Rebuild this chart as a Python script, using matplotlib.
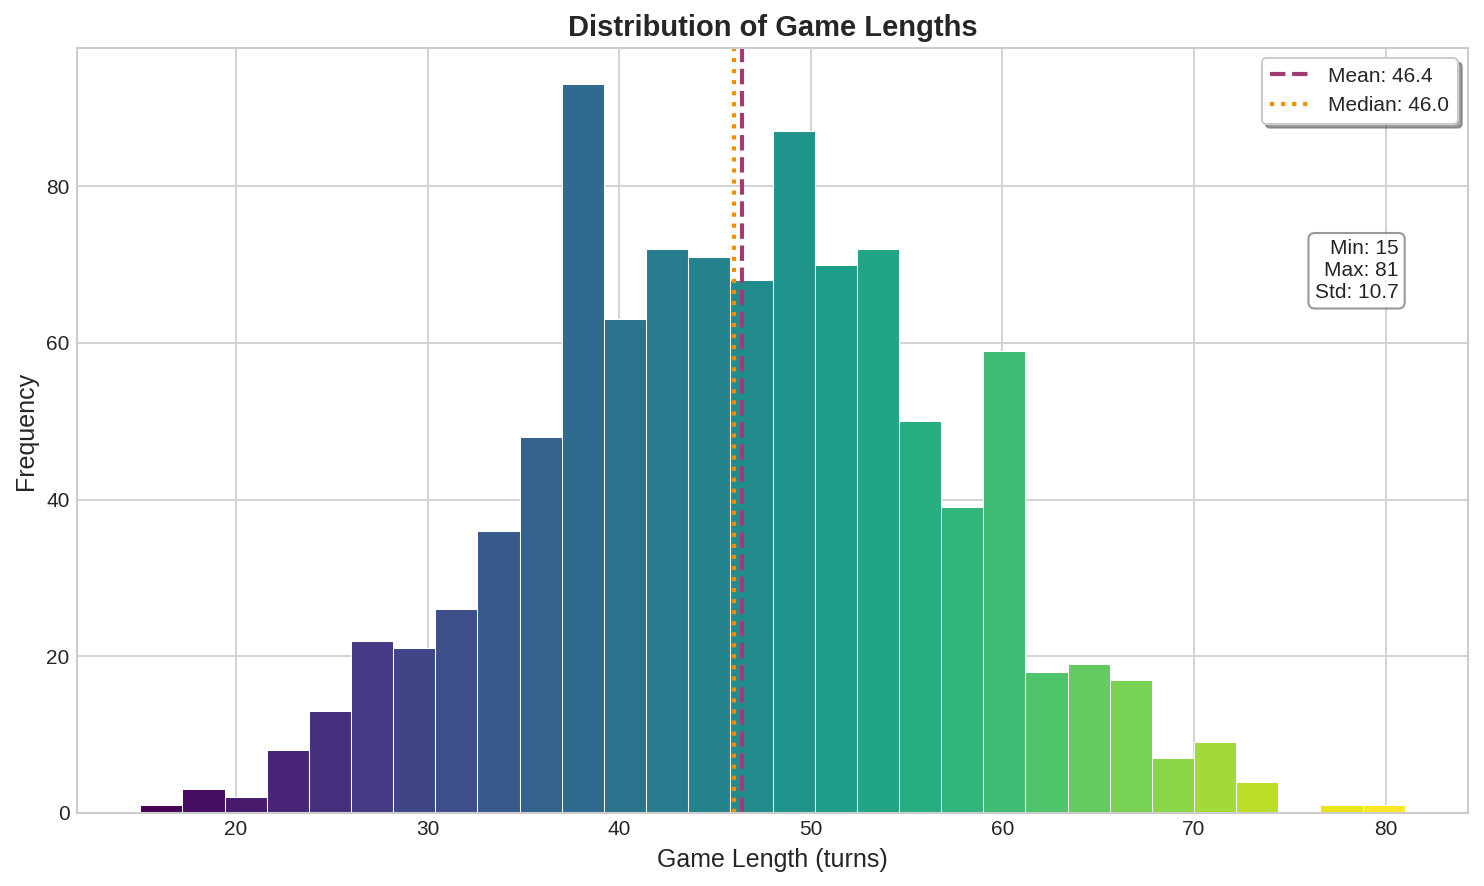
import numpy as np
import matplotlib
matplotlib.use("Agg")
import matplotlib.pyplot as plt

# Data
bin_start = 15.0
bin_end = 81.0
counts = [1, 3, 2, 8, 13, 22, 21, 26, 36, 48,
          93, 63, 72, 71, 68, 87, 70, 72, 50, 39,
          59, 18, 19, 17, 7, 9, 4, 0, 1, 1]
mean_val = 46.4
median_val = 46.0
min_val = 15
max_val = 81
std_val = 10.7

plt.style.use("seaborn-v0_8-whitegrid")
plt.rcParams['font.family'] = ['Arial', 'Liberation Sans', 'DejaVu Sans']

fig = plt.figure(figsize=(1484 / 150, 886 / 150), dpi=150)
ax = fig.add_axes([77 / 1484, (886 - 813) / 886, (1468 - 77) / 1484, (813 - 48) / 886])

n = len(counts)
edges = np.linspace(bin_start, bin_end, n + 1)
widths = np.diff(edges)
colors = plt.cm.viridis(np.linspace(0, 1, n))
ax.bar(edges[:-1], counts, width=widths, align='edge', color=colors,
       edgecolor='white', linewidth=0.5)

ax.axvline(mean_val, color='#A23B72', linestyle='--', linewidth=2, label=f'Mean: {mean_val:.1f}')
ax.axvline(median_val, color='#F18F01', linestyle=':', linewidth=2, label=f'Median: {median_val:.1f}')

ax.set_xlim(11.7, 84.3)
ax.set_ylim(0, 97.65)
ax.set_title('Distribution of Game Lengths', fontsize=14, fontweight='bold')
ax.set_xlabel('Game Length (turns)', fontsize=12)
ax.set_ylabel('Frequency', fontsize=12)
ax.tick_params(labelsize=10)

ax.legend(loc='upper right', frameon=True, shadow=True, fancybox=True, fontsize=10)

ax.text(0.95, 0.75, f'Min: {min_val}\nMax: {max_val}\nStd: {std_val:.1f}',
        transform=ax.transAxes, ha='right', va='top', fontsize=10,
        bbox=dict(boxstyle='round', facecolor='white', edgecolor='gray', alpha=0.8))

fig.savefig('out.png', dpi=150)
